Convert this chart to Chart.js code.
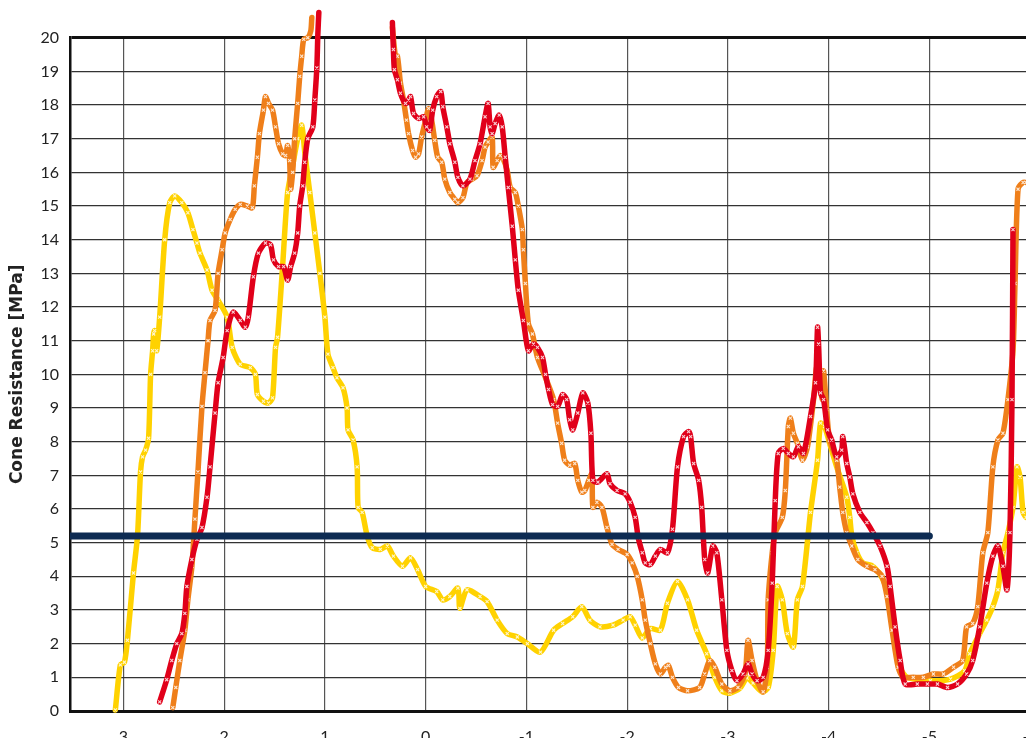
<!DOCTYPE html>
<html>
<head>
<meta charset="utf-8">
<script src="https://cdn.jsdelivr.net/npm/chart.js@4/dist/chart.umd.min.js"></script>
<style>
  html, body { margin: 0; padding: 0; background: #fff; overflow: hidden; }
  #wrap { position: absolute; left: 0; top: 0; width: 1100px; height: 760px; }
</style>
</head>
<body>
<div id="wrap"><canvas id="cpt" width="1100" height="760"></canvas></div>
<script>
// CPT profiles: position along the section vs. cone resistance (MPa)
const posYellow = [3.08,3.03,2.99,2.96,2.90,2.86,2.83,2.81,2.78,2.75,
  2.73,2.71,2.70,2.69,2.67,2.64,2.59,2.54,2.49,2.42,
  2.36,2.31,2.27,2.24,2.17,2.12,2.06,1.97,1.92,1.84,
  1.74,1.69,1.67,1.61,1.56,1.52,1.49,1.47,1.42,1.37,
  1.32,1.27,1.23,1.20,1.15,1.10,1.05,1.00,0.97,0.92,
  0.88,0.82,0.78,0.77,0.72,0.68,0.67,0.63,0.58,0.53,
  0.45,0.38,0.32,0.23,0.15,0.08,0.00,-0.11,-0.17,-0.24,
  -0.32,-0.34,-0.41,-0.54,-0.61,-0.71,-0.81,-0.91,-1.01,-1.14,
  -1.27,-1.36,-1.46,-1.55,-1.63,-1.73,-1.86,-1.96,-2.03,-2.08,
  -2.15,-2.23,-2.33,-2.40,-2.50,-2.60,-2.69,-2.79,-2.87,-2.94,
  -3.02,-3.12,-3.19,-3.25,-3.34,-3.40,-3.45,-3.49,-3.54,-3.59,
  -3.65,-3.69,-3.74,-3.82,-3.89,-3.92,-3.96,-4.01,-4.08,-4.18,
  -4.21,-4.23,-4.28,-4.34,-4.44,-4.54,-4.61,-4.66,-4.71,-4.78,
  -5.01,-5.21,-5.35,-5.40,-5.50,-5.57,-5.63,-5.68,-5.73,-5.78,
  -5.83,-5.87,-5.90,-5.93,-5.96];
const qcYellow = [0.03,1.37,1.45,2.1,4.1,5.2,7.1,7.55,7.75,8.1,
  10.0,10.7,11.2,11.3,10.7,11.7,14.0,15.1,15.3,15.1,
  14.8,14.3,13.9,13.6,13.1,12.5,12.2,11.7,10.8,10.3,
  10.2,10.0,9.4,9.2,9.15,9.3,10.8,11.1,13.2,15.4,
  16.2,17.0,17.4,16.6,15.4,14.2,13.0,11.7,10.6,10.2,
  9.9,9.6,9.0,8.35,8.05,7.25,6.05,5.9,5.2,4.85,
  4.8,4.9,4.6,4.3,4.55,4.2,3.7,3.55,3.3,3.4,
  3.65,3.05,3.6,3.4,3.25,2.7,2.3,2.2,2.0,1.75,
  2.4,2.6,2.8,3.1,2.7,2.5,2.55,2.7,2.8,2.55,
  2.17,2.45,2.4,3.2,3.85,3.3,2.4,1.7,1.0,0.6,
  0.53,0.68,0.98,0.83,0.57,0.7,1.8,3.7,3.3,2.3,
  1.9,3.3,3.7,5.9,7.45,8.55,8.45,7.95,7.25,6.35,
  5.75,5.2,4.7,4.4,4.3,3.9,3.3,2.4,1.3,1.0,
  0.9,0.95,1.2,1.7,2.3,2.7,3.1,3.6,4.7,5.3,
  6.05,7.25,6.95,5.9,5.75];

const posOrange = [2.51,2.48,2.44,2.39,2.36,2.32,2.29,2.26,2.22,2.19,
  2.16,2.14,2.09,2.06,2.02,1.99,1.94,1.89,1.84,1.77,
  1.72,1.70,1.67,1.65,1.61,1.59,1.56,1.52,1.49,1.46,
  1.42,1.39,1.37,1.35,1.34,1.32,1.30,1.27,1.25,1.23,
  1.21,1.17,1.14,1.13,
  0.70,
  0.33,0.30,0.28,0.25,0.22,0.19,0.17,0.13,0.10,0.07,
  0.04,0.00,-0.03,-0.06,-0.09,-0.12,-0.16,-0.19,-0.24,-0.29,
  -0.32,-0.37,-0.41,-0.46,-0.51,-0.56,-0.59,-0.62,-0.66,-0.67,
  -0.71,-0.74,-0.77,-0.81,-0.84,-0.89,-0.92,-0.96,-0.97,-0.99,
  -1.02,-1.06,-1.11,-1.19,-1.27,-1.31,-1.35,-1.38,-1.43,-1.48,
  -1.51,-1.55,-1.58,-1.62,-1.65,-1.66,-1.70,-1.75,-1.80,-1.85,
  -1.91,-2.00,-2.05,-2.10,-2.15,-2.18,-2.23,-2.28,-2.33,-2.38,
  -2.41,-2.45,-2.51,-2.60,-2.72,-2.77,-2.82,-2.87,-2.94,-3.02,
  -3.10,-3.17,-3.20,-3.24,-3.29,-3.35,-3.39,-3.40,-3.44,-3.47,
  -3.54,-3.57,-3.60,-3.62,-3.65,-3.69,-3.74,-3.79,-3.85,-3.88,
  -3.90,-3.94,-3.95,-3.98,-4.01,-4.08,-4.11,-4.14,-4.18,-4.23,
  -4.29,-4.38,-4.46,-4.53,-4.58,-4.63,-4.69,-4.74,-4.84,-4.94,
  -5.04,-5.14,-5.24,-5.33,-5.37,-5.43,-5.48,-5.53,-5.58,-5.63,
  -5.68,-5.73,-5.78,-5.83,-5.85,-5.88,-5.93,-5.96];
const qcOrange = [0.1,0.7,1.5,2.4,3.3,4.3,5.7,7.1,9.05,10.05,
  11.0,11.6,11.9,13.0,13.7,14.2,14.6,14.9,15.05,15.0,
  14.95,15.6,16.45,17.15,17.85,18.25,18.05,17.85,17.35,16.85,
  16.55,16.5,16.8,16.35,15.5,16.0,17.0,18.05,18.85,19.45,
  19.95,20.0,20.2,20.6,
  null,
  20.3,19.45,19.45,18.65,18.15,17.55,17.15,16.65,16.45,16.55,
  17.05,17.55,17.9,17.55,16.95,16.45,16.3,15.8,15.4,15.2,
  15.1,15.25,15.7,15.8,15.9,16.35,16.75,16.9,17.05,16.15,
  16.35,16.5,16.4,16.05,15.55,15.4,15.0,14.3,13.7,12.7,
  11.5,11.2,10.5,9.9,9.25,8.55,7.95,7.45,7.3,7.35,
  6.85,6.5,6.55,6.85,7.05,6.05,6.2,6.05,5.45,4.95,
  4.8,4.65,4.4,4.0,3.3,2.7,2.0,1.4,1.1,1.3,
  1.35,1.0,0.7,0.6,0.7,1.1,1.5,1.3,0.8,0.6,
  0.7,1.1,2.1,1.5,0.9,0.57,1.3,3.3,4.7,5.3,
  5.75,6.55,8.45,8.7,8.25,7.95,7.45,7.85,9.25,10.2,
  9.85,9.25,10.1,8.95,8.05,7.45,6.65,5.9,5.3,4.9,
  4.5,4.3,4.2,4.0,3.4,2.4,1.3,1.0,1.0,1.0,
  1.1,1.1,1.3,1.5,2.5,2.6,3.1,4.7,5.3,7.25,
  8.05,8.25,9.25,10.7,12.7,15.5,15.7,15.7];

const posRed = [2.64,2.57,2.52,2.47,2.42,2.39,2.37,2.32,2.27,2.22,
  2.17,2.14,2.09,2.06,2.01,1.97,1.91,1.84,1.79,1.76,
  1.71,1.66,1.59,1.54,1.51,1.46,1.41,1.37,1.34,1.30,
  1.27,1.25,1.22,1.20,1.17,1.12,1.10,1.08,1.07,1.06,
  0.70,
  0.33,0.32,0.31,0.28,0.25,0.20,0.17,0.15,0.12,0.07,
  0.02,-0.01,-0.04,-0.07,-0.11,-0.15,-0.17,-0.21,-0.24,-0.29,
  -0.32,-0.37,-0.44,-0.49,-0.54,-0.59,-0.62,-0.64,-0.66,-0.69,
  -0.73,-0.76,-0.79,-0.82,-0.86,-0.89,-0.92,-0.97,-1.02,-1.07,
  -1.11,-1.16,-1.19,-1.22,-1.26,-1.31,-1.36,-1.40,-1.43,-1.46,
  -1.51,-1.56,-1.61,-1.64,-1.66,-1.71,-1.80,-1.83,-1.90,-1.98,
  -2.03,-2.08,-2.11,-2.15,-2.18,-2.23,-2.28,-2.33,-2.40,-2.45,
  -2.50,-2.56,-2.61,-2.63,-2.66,-2.71,-2.74,-2.77,-2.80,-2.85,
  -2.89,-2.94,-2.99,-3.04,-3.09,-3.15,-3.20,-3.24,-3.29,-3.35,
  -3.40,-3.44,-3.47,-3.50,-3.55,-3.60,-3.65,-3.70,-3.75,-3.82,
  -3.87,-3.89,-3.90,-3.92,-3.95,-3.99,-4.03,-4.08,-4.13,-4.14,
  -4.18,-4.21,-4.24,-4.31,-4.38,-4.44,-4.51,-4.58,-4.61,-4.66,
  -4.71,-4.76,-4.88,-4.98,-5.08,-5.18,-5.28,-5.37,-5.43,-5.50,
  -5.57,-5.63,-5.68,-5.73,-5.77,-5.80,-5.82,-5.83];
const qcRed = [0.27,0.93,1.5,2.0,2.3,2.9,3.7,4.5,5.1,5.45,
  6.35,7.25,8.85,9.75,10.5,11.3,11.85,11.6,11.4,11.7,
  12.9,13.6,13.9,13.85,13.4,13.2,13.2,12.8,13.2,13.6,
  14.2,15.0,15.6,16.3,17.0,17.35,18.15,19.1,20.1,20.75,
  null,
  20.45,19.65,19.05,18.75,18.35,18.05,18.15,18.25,17.75,17.6,
  17.65,17.35,17.25,17.85,18.25,18.4,17.95,17.35,16.85,16.3,
  15.85,15.6,15.8,16.35,16.85,17.65,18.05,17.35,17.15,17.45,
  17.7,17.35,16.45,15.55,14.4,13.4,12.5,11.6,10.7,10.9,
  10.8,10.5,10.0,9.55,9.1,9.05,9.4,9.25,8.65,8.35,
  8.85,9.45,9.15,8.25,6.85,6.8,7.05,6.75,6.55,6.45,
  6.2,5.75,5.15,4.7,4.4,4.35,4.6,4.8,4.7,5.4,
  7.25,8.15,8.3,8.15,7.35,6.85,6.05,4.5,4.1,4.9,
  4.7,3.3,1.8,1.2,0.9,1.1,1.4,1.1,0.9,1.0,
  1.8,3.8,6.25,7.65,7.8,7.65,7.55,7.85,7.65,8.75,
  9.75,11.4,10.9,9.45,9.25,8.35,8.05,7.55,7.75,8.15,
  7.35,6.95,6.45,5.9,5.6,5.3,4.9,4.3,3.7,2.5,
  1.5,0.8,0.8,0.8,0.8,0.7,0.8,1.1,1.5,2.5,
  3.8,4.6,4.9,4.3,3.6,5.3,9.25,14.3];

// Reference resistance level and its horizontal extent
const refLevel = 5.2;
const refSpan = [3.53, -5.0];

const toPoints = (xs, ys) => xs.map((x, i) => ({ x: x, y: ys[i] }));

// small white crosses along each trace, like the logger's sample marks
const speckle = {
  pointStyle: 'crossRot',
  pointRadius: 2.2,
  pointBorderWidth: 1.1,
  pointBorderColor: 'rgba(255,255,255,0.8)',
  pointHoverRadius: 0
};

function profile(label, xs, ys, color) {
  return Object.assign({
    label: label,
    data: toPoints(xs, ys),
    borderColor: color,
    backgroundColor: color,
    borderWidth: 5.5,
    tension: 0.25,
    borderJoinStyle: 'round',
    borderCapStyle: 'round',
    spanGaps: false,
    clip: false,
    fill: false
  }, speckle);
}

new Chart(document.getElementById('cpt'), {
  type: 'line',
  data: {
    datasets: [
      {
        label: 'Reference',
        data: refSpan.map(x => ({ x: x, y: refLevel })),
        borderColor: '#0d2b52',
        borderWidth: 7,
        borderCapStyle: 'round',
        pointRadius: 0,
        clip: 0,
        fill: false
      },
      profile('CPT 3', posRed, qcRed, '#e1001a'),
      profile('CPT 2', posOrange, qcOrange, '#ef7f1a'),
      profile('CPT 1', posYellow, qcYellow, '#ffd200')
    ]
  },
  options: {
    responsive: false,
    animation: false,
    devicePixelRatio: 1,
    layout: { padding: { top: 37.7, right: 19.5, bottom: 0, left: 0 } },
    plugins: { legend: { display: false }, tooltip: { enabled: false } },
    scales: {
      x: {
        type: 'linear',
        reverse: true,
        min: -6.5,
        max: 3.53,
        afterFit: s => { s.height = 49; },
        ticks: {
          stepSize: 1,
          includeBounds: false,
          autoSkip: false,
          maxRotation: 0,
          padding: 16,
          color: '#222',
          font: { family: 'Lato', size: 16 }
        },
        grid: { color: '#555', lineWidth: 1.2, drawTicks: false },
        border: { display: true, color: '#111', width: 3 }
      },
      y: {
        min: 0,
        max: 20,
        afterFit: s => { s.width = 70; },
        ticks: {
          stepSize: 1,
          padding: 11,
          color: '#222',
          font: { family: 'Lato', size: 16 }
        },
        grid: {
          color: c => (c.tick && c.tick.value === 20 ? '#111' : '#333'),
          lineWidth: c => (c.tick && c.tick.value === 20 ? 3 : 1.2),
          drawTicks: false
        },
        border: { display: true, color: '#111', width: 2.5 },
        title: {
          display: true,
          text: 'Cone Resistance [MPa]',
          color: '#222',
          font: { family: 'DejaVu Sans', weight: 'bold', size: 17 },
          padding: { top: 7, bottom: 0 }
        }
      }
    }
  }
});
</script>
</body>
</html>
